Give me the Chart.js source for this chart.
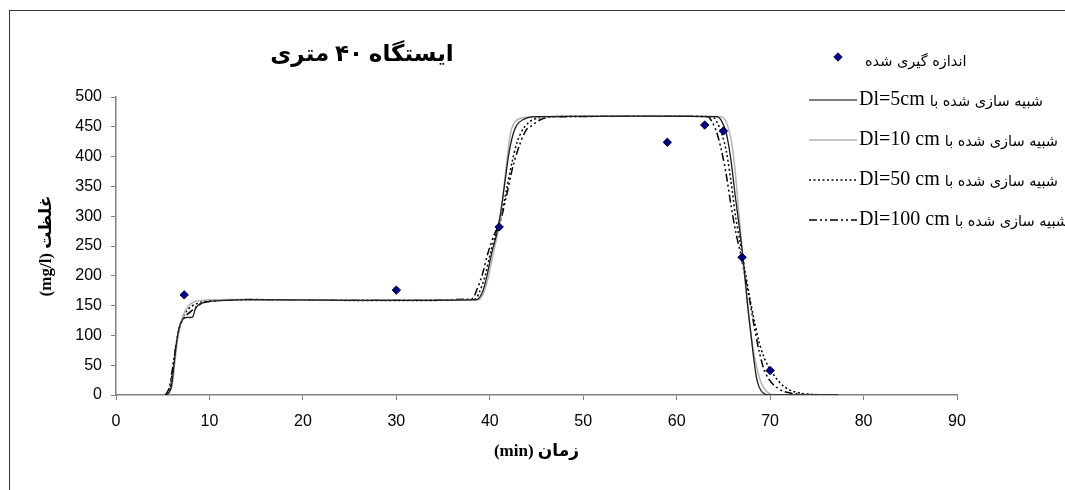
<!DOCTYPE html>
<html>
<head>
<meta charset="utf-8">
<script src="https://cdn.jsdelivr.net/npm/chart.js@4.4.1/dist/chart.umd.min.js"></script>
<style>
  html, body { margin: 0; padding: 0; background: #fff; overflow: hidden; }
  #wrap { position: relative; width: 1065px; height: 490px; }
  #frame { position: absolute; left: 9px; top: 10px; width: 1100px; height: 600px; border: 1.5px solid #333; box-sizing: border-box; pointer-events: none; }
  canvas { position: absolute; left: 0; top: 0; }
</style>
</head>
<body>
<div id="wrap">
  <canvas id="c" width="1065" height="490"></canvas>
  <div id="frame"></div>
</div>
<script>
// ---- data ----
const chartTitle = 'ایستگاه ۴۰ متری';
const xAxisTitle = '(min) زمان';
const yAxisTitle = '(mg/l) غلظت';
const xTicks = [0, 10, 20, 30, 40, 50, 60, 70, 80, 90];
const yTicks = [0, 50, 100, 150, 200, 250, 300, 350, 400, 450, 500];

const measuredLabel = 'اندازه گیری شده';
const measuredX = [7.3, 30, 41, 59, 63, 65, 67, 70];
const measuredY = [168, 176, 282, 424, 453, 443, 231, 41];

const seriesLatin = ['Dl=5cm', 'Dl=10 cm', 'Dl=50 cm', 'Dl=100 cm'];
const seriesPersian = 'شبیه سازی شده با';

const dl5X = [5.5, 5.9, 6.2, 6.5, 6.8, 7.2, 7.5, 8.2, 8.5, 9.0, 10, 12, 14,
  38.6, 39.2, 39.7, 40.2, 40.7, 41.1, 41.6, 42.1, 42.6, 43.1, 44, 45,
  64.3, 64.8, 65.3, 65.8, 66.3, 66.8, 67.2, 67.6, 68.0, 68.3, 68.6, 69.0, 69.5, 70, 77.3];
const dl5Y = [0, 12, 50, 90, 115, 128, 130, 131, 145, 153, 157, 159, 160,
  160, 172, 200, 238, 268, 300, 355, 410, 443, 457, 465, 467,
  467, 460, 440, 395, 330, 270, 215, 150, 95, 55, 25, 8, 1, 0, 0];

const dl10X = [5.6, 6.0, 6.3, 6.6, 6.9, 7.3, 7.8, 8.3, 8.8, 10,
  38.8, 39.3, 39.8, 40.3, 40.8, 41.2, 41.6, 42.0, 42.3, 42.8, 43.5, 45,
  64.8, 65.3, 65.8, 66.2, 66.6, 67.0, 67.4, 67.8, 68.2, 68.6, 69.0, 69.5, 70, 70.5, 77.3];
const dl10Y = [0, 15, 55, 95, 120, 138, 150, 156, 158, 160,
  160, 170, 195, 232, 268, 305, 360, 415, 445, 460, 465, 467,
  467, 458, 430, 385, 315, 245, 180, 120, 75, 45, 22, 8, 2, 0, 0];

const dl50X = [5.4, 5.8, 6.2, 6.6, 7.0, 7.5, 8.0, 8.6, 9.3, 10.5, 12,
  38.3, 38.9, 39.5, 40.1, 40.7, 41.2, 41.8, 42.4, 43.0, 43.6, 44.3, 45.2, 46.5,
  63.8, 64.3, 64.8, 65.3, 65.8, 66.3, 66.8, 67.3, 67.8, 68.3, 68.8, 69.3, 69.8, 70.2, 70.8, 71.5, 72.3, 73.3, 74.5, 76, 77.3];
const dl50Y = [0, 15, 60, 100, 125, 140, 148, 153, 157, 159, 160,
  160, 173, 200, 240, 272, 300, 345, 392, 428, 447, 459, 465, 467,
  467, 458, 440, 410, 360, 300, 255, 210, 165, 125, 90, 65, 48, 38, 25, 14, 7, 3, 1, 0, 0];

const dl100X = [5.3, 5.7, 6.1, 6.5, 6.9, 7.4, 8.0, 8.5, 9.2, 10, 11.5, 13,
  38.0, 38.6, 39.2, 39.8, 40.5, 41.1, 41.8, 42.5, 43.2, 43.9, 44.5, 45.3, 46.3, 47.5,
  63.3, 63.8, 64.3, 64.8, 65.3, 65.8, 66.3, 66.8, 67.3, 67.8, 68.3, 68.8, 69.3, 69.8, 70.5, 71.3, 72.3, 73.5, 75, 77.3];
const dl100Y = [0, 12, 50, 90, 118, 132, 140, 147, 154, 157, 159, 160,
  161, 176, 202, 238, 270, 290, 335, 385, 420, 445, 452, 461, 466, 467,
  467, 458, 440, 410, 370, 320, 275, 240, 200, 160, 115, 75, 45, 28, 15, 7, 3, 1, 0, 0];

// ---- build datasets ----
const pts = (xs, ys) => xs.map((x, i) => ({ x: x, y: ys[i] }));
const lineStyles = [
  { color: '#1a1a1a', dash: [], width: 1.3, legendColor: '#555555' },
  { color: '#b4b4b4', dash: [], width: 1.5, legendColor: '#b4b4b4' },
  { color: '#000000', dash: [2, 2.5], width: 1.5, legendColor: '#000000' },
  { color: '#000000', dash: [8, 3, 2, 3, 2, 3], width: 1.5, legendColor: '#000000' }
];
const seriesData = [pts(dl5X, dl5Y), pts(dl10X, dl10Y), pts(dl50X, dl50Y), pts(dl100X, dl100Y)];

const datasets = seriesData.map((d, i) => ({
  label: seriesLatin[i],
  data: d,
  showLine: true,
  borderColor: lineStyles[i].color,
  borderDash: lineStyles[i].dash,
  borderWidth: lineStyles[i].width,
  pointRadius: 0,
  fill: false,
  tension: 0.3,
  order: 2
}));
datasets.push({
  label: measuredLabel,
  data: pts(measuredX, measuredY),
  showLine: false,
  pointStyle: 'rectRot',
  pointRadius: 4.2,
  backgroundColor: '#000080',
  borderColor: '#000040',
  borderWidth: 1,
  order: 0
});

const PLOT_LEFT = 116, PLOT_RIGHT = 957, PLOT_TOP = 97, PLOT_BOTTOM = 395;

const overlay = {
  id: 'overlay',
  afterDraw(chart) {
    const ctx = chart.ctx;
    ctx.save();
    // title
    ctx.fillStyle = '#000';
    ctx.font = "bold 23px 'Liberation Serif', 'DejaVu Sans'";
    ctx.textAlign = 'center';
    ctx.textBaseline = 'middle';
    ctx.direction = 'rtl';
    ctx.fillText(chartTitle, 362, 55);
    ctx.direction = 'ltr';

    // legend
    ctx.textAlign = 'left';
    const mx = 838, my = 57, r = 4.2;
    ctx.beginPath();
    ctx.moveTo(mx, my - r); ctx.lineTo(mx + r, my); ctx.lineTo(mx, my + r); ctx.lineTo(mx - r, my); ctx.closePath();
    ctx.fillStyle = '#000080'; ctx.fill();
    ctx.strokeStyle = '#000040'; ctx.lineWidth = 1; ctx.stroke();
    ctx.fillStyle = '#000';
    ctx.font = "14.5px 'DejaVu Sans'";
    ctx.direction = 'rtl';
    ctx.textAlign = 'left';
    ctx.fillText(measuredLabel, 865, 62);
    ctx.direction = 'ltr';

    const rows = [100, 140, 180, 220];
    rows.forEach((y, i) => {
      const st = lineStyles[i];
      ctx.beginPath();
      ctx.setLineDash(st.dash);
      ctx.strokeStyle = st.legendColor;
      ctx.lineWidth = st.width;
      ctx.moveTo(809, y); ctx.lineTo(857, y);
      ctx.stroke();
      ctx.setLineDash([]);
      ctx.fillStyle = '#000';
      ctx.font = "20px 'Liberation Serif'";
      ctx.textAlign = 'left';
      ctx.fillText(seriesLatin[i], 859, y);
      const w = ctx.measureText(seriesLatin[i]).width;
      ctx.font = "14.5px 'DejaVu Sans'";
      ctx.direction = 'rtl';
      ctx.textAlign = 'left';
      ctx.fillText(seriesPersian, 859 + w + 5, y + 2);
      ctx.direction = 'ltr';
    });
    ctx.restore();
  }
};

new Chart(document.getElementById('c'), {
  type: 'scatter',
  data: { datasets: datasets },
  options: {
    responsive: false,
    animation: false,
    layout: { padding: { left: 0, right: 1065 - PLOT_RIGHT, top: PLOT_TOP, bottom: 0 } },
    plugins: { legend: { display: false }, tooltip: { enabled: false }, title: { display: false } },
    scales: {
      x: {
        type: 'linear',
        min: 0, max: 90,
        afterBuildTicks: (s) => { s.ticks = xTicks.map(v => ({ value: v })); },
        afterFit: (s) => { s.height = 490 - PLOT_BOTTOM; },
        grid: { drawOnChartArea: false, drawTicks: true, tickLength: 5, color: '#808080' },
        border: { display: true, color: '#808080', width: 1.5 },
        ticks: { color: '#000', font: { family: "'Liberation Sans'", size: 16 }, padding: 12, maxRotation: 0 },
        title: { display: true, text: xAxisTitle, color: '#000',
                 font: { family: "'Liberation Serif', 'DejaVu Sans'", size: 17, weight: 'bold' },
                 padding: { top: 0, bottom: 28 } }
      },
      y: {
        type: 'linear',
        min: 0, max: 500,
        afterBuildTicks: (s) => { s.ticks = yTicks.map(v => ({ value: v })); },
        afterFit: (s) => { s.width = PLOT_LEFT; },
        grid: { drawOnChartArea: false, drawTicks: true, tickLength: 5, color: '#808080' },
        border: { display: true, color: '#808080', width: 1.5 },
        ticks: { color: '#000', font: { family: "'Liberation Sans'", size: 16 }, padding: 9 },
        title: { display: true, text: yAxisTitle, color: '#000',
                 font: { family: "'Liberation Serif', 'DejaVu Sans'", size: 17, weight: 'bold' },
                 padding: { top: 36, bottom: 0 } }
      }
    }
  },
  plugins: [overlay]
});
</script>
</body>
</html>
